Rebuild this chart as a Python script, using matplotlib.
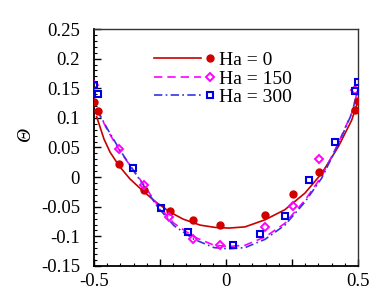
import numpy as np
import matplotlib
matplotlib.use("Agg")
import matplotlib.pyplot as plt
from matplotlib.lines import Line2D
from matplotlib.legend_handler import HandlerBase
from matplotlib.ticker import MultipleLocator, FuncFormatter

plt.rcParams['font.family'] = ['Liberation Serif', 'DejaVu Serif']
plt.rcParams['axes.unicode_minus'] = False

# ---- data ----
labels = ["Ha = 0", "Ha = 150", "Ha = 300"]

# markers
ha0_x = [-0.499, -0.484, -0.405, -0.309, -0.214, -0.124, -0.023, 0.148, 0.252, 0.353, 0.489, 0.501]
ha0_y = [0.126, 0.112, 0.022, -0.022, -0.057, -0.072, -0.081, -0.064, -0.028, 0.008, 0.114, 0.129]

ha150_x = [-0.499, -0.405, -0.311, -0.216, -0.124, -0.023, 0.148, 0.255, 0.353, 0.489]
ha150_y = [0.155, 0.048, -0.013, -0.068, -0.104, -0.114, -0.084, -0.049, 0.030, 0.147]

ha300_x = [-0.499, -0.484, -0.351, -0.248, -0.143, 0.026, 0.128, 0.222, 0.313, 0.413, 0.489, 0.501]
ha300_y = [0.155, 0.140, 0.015, -0.052, -0.093, -0.114, -0.096, -0.065, -0.005, 0.060, 0.146, 0.161]

# curves
c0_x = [-0.490, -0.462, -0.439, -0.405, -0.364, -0.313, -0.263, -0.212, -0.162, -0.098,
        -0.040, 0.011, 0.072, 0.148, 0.223, 0.299, 0.362, 0.425, 0.476, 0.501]
c0_y = [0.102, 0.064, 0.042, 0.019, -0.003, -0.024, -0.043, -0.059, -0.071, -0.081,
        -0.085, -0.086, -0.084, -0.072, -0.055, -0.027, 0.006, 0.051, 0.096, 0.130]

c150_x = [-0.4875, -0.450, -0.405, -0.361, -0.311, -0.260, -0.197, -0.121, -0.045, 0.011,
          0.072, 0.148, 0.223, 0.299, 0.362, 0.425, 0.476, 0.500]
c150_y = [0.113, 0.080, 0.046, 0.018, -0.013, -0.047, -0.078, -0.101, -0.115, -0.117,
          -0.115, -0.101, -0.078, -0.039, 0.001, 0.057, 0.108, 0.148]

c300_x = [-0.4875, -0.450, -0.405, -0.361, -0.311, -0.260, -0.197, -0.121, -0.045, 0.011,
          0.072, 0.148, 0.223, 0.299, 0.362, 0.425, 0.476, 0.500]
c300_y = [0.113, 0.082, 0.048, 0.018, -0.015, -0.050, -0.082, -0.105, -0.119, -0.121,
          -0.119, -0.105, -0.081, -0.042, -0.002, 0.055, 0.107, 0.148]

red = '#D00000'
mag = '#FF00FF'
blue = '#0000E0'
blue_line = '#3535E0'


class EndMarker(HandlerBase):
    def create_artists(self, legend, orig_handle, xdescent, ydescent,
                       width, height, fontsize, trans):
        y = (height - ydescent) / 2.0
        line = Line2D([-xdescent, width - xdescent - 0.15 * width], [y, y])
        self.update_prop(line, orig_handle, legend)
        line.set_marker('None')
        mk = Line2D([width - xdescent], [y])
        self.update_prop(mk, orig_handle, legend)
        mk.set_linestyle('None')
        line.set_transform(trans)
        mk.set_transform(trans)
        return [line, mk]


fig = plt.figure(figsize=(3.78, 2.90), dpi=100)
ax = fig.add_axes([0.2487, 0.0828, 0.6984, 0.8172])

ax.plot(c0_x, c0_y, '-', color='#C80000', lw=1.2)
ax.plot(c150_x, c150_y, '--', color=mag, lw=1.2, dashes=(5, 3))
ax.plot(c300_x, c300_y, '-.', color=blue_line, lw=1.2, dashes=(5, 2, 1, 2))

ax.plot(ha0_x, ha0_y, 'o', color=red, ms=5, mec=red, zorder=5)
ax.plot(ha150_x, ha150_y, 'D', mfc='none', mec=mag, ms=4, mew=1.4, zorder=5)
ax.plot(ha300_x, ha300_y, 's', mfc='none', mec=blue, ms=5, mew=1.5, zorder=5)

h0 = Line2D([], [], color='#C80000', lw=1.2, marker='o', ms=5, mfc=red, mec=red)
h1 = Line2D([], [], color=mag, lw=1.2, ls='--', dashes=(5, 3), marker='D', ms=4,
            mfc='none', mec=mag, mew=1.4)
h2 = Line2D([], [], color=blue_line, lw=1.2, ls='-.', dashes=(5, 2, 1, 2), marker='s', ms=5,
            mfc='none', mec=blue, mew=1.5)
leg = ax.legend([h0, h1, h2], labels, loc='upper left', bbox_to_anchor=(0.228, 0.905),
                frameon=False, fontsize=14, handlelength=2.85, handletextpad=0.5,
                labelspacing=0.05, borderpad=0, borderaxespad=0,
                handler_map={Line2D: EndMarker()})

ax.set_xlim(-0.5, 0.5)
ax.set_ylim(-0.15, 0.25)
ax.xaxis.set_major_locator(MultipleLocator(0.25))
ax.xaxis.set_minor_locator(MultipleLocator(0.05))
ax.yaxis.set_major_locator(MultipleLocator(0.05))
ax.yaxis.set_minor_locator(MultipleLocator(0.01))


def xfmt(v, pos):
    if abs(v - round(v * 2) / 2) < 1e-9:
        r = round(v, 2)
        if r == 0:
            return '0'
        return ('%g' % r)
    return ''


def yfmt(v, pos):
    r = round(v, 2)
    if abs(r) < 1e-9:
        return '0'
    return '%g' % r


ax.xaxis.set_major_formatter(FuncFormatter(xfmt))
ax.yaxis.set_major_formatter(FuncFormatter(yfmt))
ax.tick_params(which='both', direction='in', top=False, right=False, labelsize=13.5)
ax.tick_params(which='major', length=5, width=1)
ax.tick_params(which='minor', length=2.5, width=0.8)
ax.tick_params(axis='x', pad=5)
ax.tick_params(axis='y', pad=10)
for s in ['left', 'bottom']:
    ax.spines[s].set_linewidth(1.3)
for s in ['top', 'right']:
    ax.spines[s].set_linewidth(1.0)
    ax.spines[s].set_color('#333333')

fig.text(0.068, 0.535, 'Θ', rotation=90, style='italic', fontsize=14,
         ha='center', va='center')

fig.savefig('out.png', dpi=100)
